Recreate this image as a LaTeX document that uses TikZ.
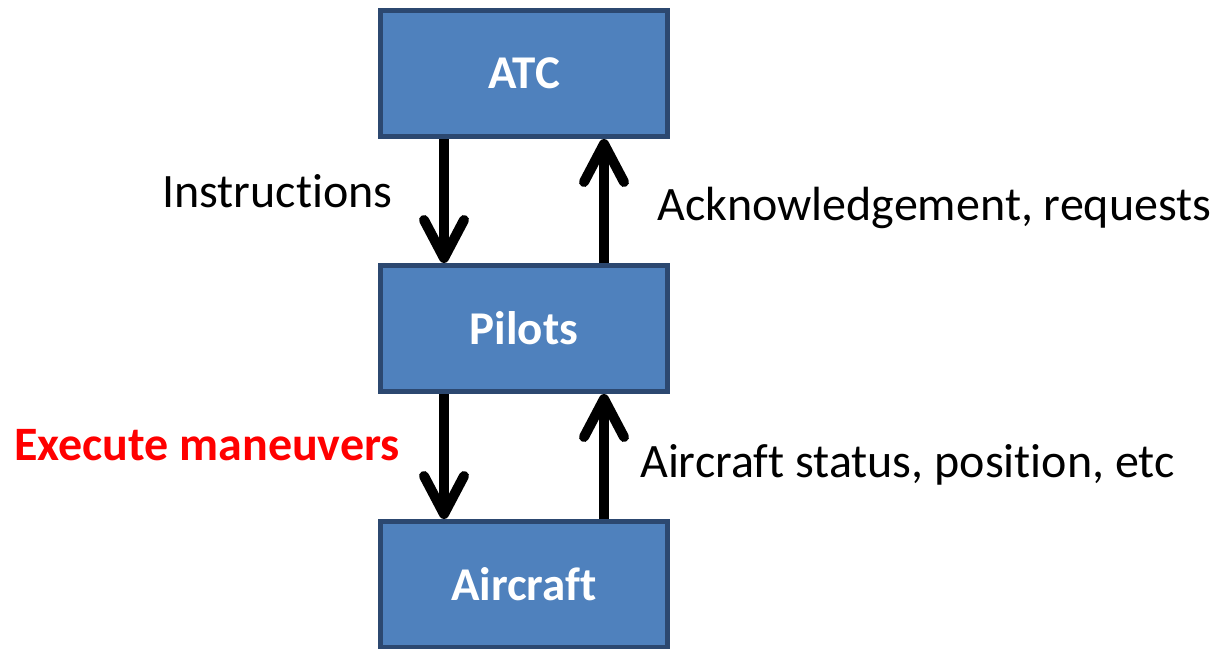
\documentclass[tikz,border=0pt]{standalone}
\usepackage{fontspec}
\setmainfont{Carlito}[Ligatures=NoCommon]
\usetikzlibrary{arrows.meta}
\definecolor{boxfill}{HTML}{4F81BD}
\definecolor{boxline}{RGB}{44,72,112}
\tikzset{
  block/.style={rectangle, draw=boxline, fill=boxfill, line width=5pt,
    minimum width=287pt, minimum height=126pt, inner sep=0pt,
    text=white, font=\fontsize{47}{52}\selectfont\bfseries},
  flow/.style={line width=10pt, -{Straight Barb[length=38pt, width=40pt, round]}},
  lbl/.style={inner sep=0pt, font=\fontsize{48}{54}\selectfont},
}
\begin{document}
\begin{tikzpicture}[x=1pt, y=-1pt]
\clip (0,0) rectangle (1214,648);
\fill[white] (0,0) rectangle (1214,648);
\node[block] (atc) at (524,73.5) {ATC};
\node[block] (pilots) at (524,328.5) {Pilots};
\node[block] (aircraft) at (524,584.5) {Aircraft};
\draw[flow] ([xshift=-80pt]atc.south) -- ([xshift=-80pt]pilots.north);
\draw[flow] ([xshift=80pt]pilots.north) -- ([xshift=80pt]atc.south);
\draw[flow] ([xshift=-80pt]pilots.south) -- ([xshift=-80pt]aircraft.north);
\draw[flow] ([xshift=80pt]aircraft.north) -- ([xshift=80pt]pilots.south);
\node[lbl, anchor=base west] (instr) at (162,207) {Instructions};
\node[lbl, anchor=base west] (ack) at (657,220) {Acknowledgement, requests};
\node[lbl, anchor=base west, text=red, font=\fontsize{48}{54}\selectfont\bfseries] (exec) at (14,460) {Execute maneuvers};
\node[lbl, anchor=base west] (status) at (640,477) {Aircraft status, position, etc};
\end{tikzpicture}
\end{document}
